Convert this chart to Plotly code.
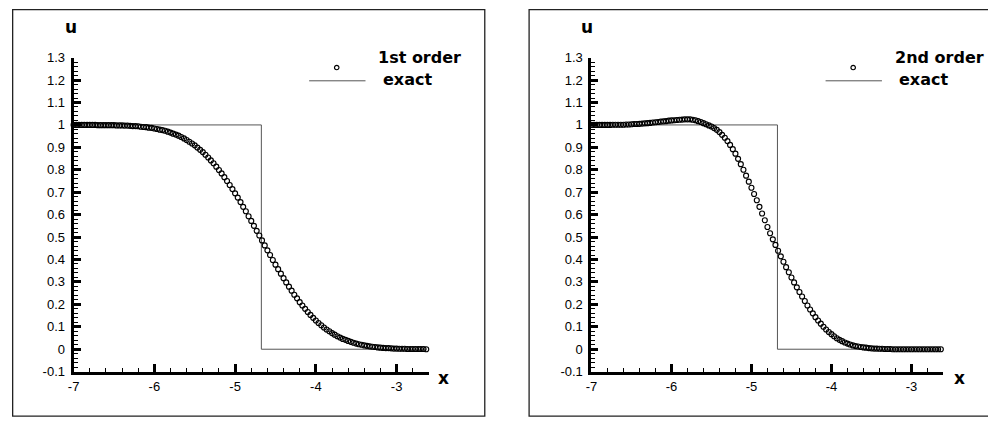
import plotly.graph_objects as go

# ---------------- data ----------------
X = [-7.000, -6.967, -6.933, -6.900, -6.867, -6.833, -6.800, -6.767, -6.733, -6.700,
     -6.667, -6.633, -6.600, -6.567, -6.533, -6.500, -6.467, -6.433, -6.400, -6.367,
     -6.333, -6.300, -6.267, -6.233, -6.200, -6.167, -6.133, -6.100, -6.067, -6.033,
     -6.000, -5.967, -5.933, -5.900, -5.867, -5.833, -5.800, -5.767, -5.733, -5.700,
     -5.667, -5.633, -5.600, -5.567, -5.533, -5.500, -5.467, -5.433, -5.400, -5.367,
     -5.333, -5.300, -5.267, -5.233, -5.200, -5.167, -5.133, -5.100, -5.067, -5.033,
     -5.000, -4.967, -4.933, -4.900, -4.867, -4.833, -4.800, -4.767, -4.733, -4.700,
     -4.667, -4.633, -4.600, -4.567, -4.533, -4.500, -4.467, -4.433, -4.400, -4.367,
     -4.333, -4.300, -4.267, -4.233, -4.200, -4.167, -4.133, -4.100, -4.067, -4.033,
     -4.000, -3.967, -3.933, -3.900, -3.867, -3.833, -3.800, -3.767, -3.733, -3.700,
     -3.667, -3.633, -3.600, -3.567, -3.533, -3.500, -3.467, -3.433, -3.400, -3.367,
     -3.333, -3.300, -3.267, -3.233, -3.200, -3.167, -3.133, -3.100, -3.067, -3.033,
     -3.000, -2.967, -2.933, -2.900, -2.867, -2.833, -2.800, -2.767, -2.733, -2.700,
     -2.667, -2.633]

U_FIRST = [1.000, 1.000, 1.000, 1.000, 1.000, 1.000, 1.000, 1.000, 1.000, 0.999,
           0.999, 0.999, 0.999, 0.999, 0.999, 0.999, 0.998, 0.998, 0.998, 0.997,
           0.997, 0.996, 0.995, 0.995, 0.994, 0.992, 0.991, 0.990, 0.988, 0.987,
           0.984, 0.982, 0.979, 0.977, 0.974, 0.970, 0.966, 0.961, 0.957, 0.952,
           0.946, 0.940, 0.933, 0.925, 0.917, 0.909, 0.899, 0.889, 0.879, 0.867,
           0.855, 0.842, 0.829, 0.814, 0.799, 0.784, 0.767, 0.750, 0.732, 0.714,
           0.695, 0.676, 0.656, 0.635, 0.615, 0.593, 0.572, 0.550, 0.528, 0.507,
           0.485, 0.463, 0.441, 0.420, 0.398, 0.377, 0.357, 0.337, 0.317, 0.298,
           0.279, 0.261, 0.243, 0.227, 0.210, 0.195, 0.180, 0.166, 0.153, 0.140,
           0.128, 0.117, 0.107, 0.097, 0.088, 0.080, 0.072, 0.065, 0.058, 0.052,
           0.046, 0.042, 0.037, 0.033, 0.029, 0.025, 0.022, 0.020, 0.017, 0.015,
           0.013, 0.011, 0.010, 0.008, 0.007, 0.006, 0.005, 0.005, 0.004, 0.003,
           0.003, 0.002, 0.002, 0.002, 0.001, 0.001, 0.001, 0.001, 0.001, 0.001,
           0.001, 0.000]

U_SECOND = [1.000, 1.000, 1.000, 1.000, 1.000, 1.000, 1.000, 1.000, 1.001, 1.001,
            1.001, 1.001, 1.001, 1.002, 1.002, 1.003, 1.004, 1.004, 1.005, 1.006,
            1.007, 1.008, 1.009, 1.011, 1.012, 1.013, 1.015, 1.016, 1.017, 1.019,
            1.020, 1.021, 1.022, 1.023, 1.024, 1.025, 1.025, 1.025, 1.023, 1.021,
            1.017, 1.013, 1.008, 1.003, 0.998, 0.993, 0.986, 0.978, 0.968, 0.956,
            0.943, 0.928, 0.911, 0.892, 0.872, 0.849, 0.825, 0.800, 0.774, 0.747,
            0.720, 0.692, 0.664, 0.635, 0.605, 0.575, 0.545, 0.517, 0.490, 0.465,
            0.439, 0.414, 0.390, 0.366, 0.343, 0.320, 0.298, 0.276, 0.255, 0.235,
            0.215, 0.195, 0.177, 0.160, 0.143, 0.128, 0.114, 0.100, 0.088, 0.077,
            0.067, 0.058, 0.049, 0.042, 0.036, 0.030, 0.025, 0.021, 0.017, 0.014,
            0.012, 0.010, 0.008, 0.007, 0.005, 0.004, 0.003, 0.003, 0.002, 0.002,
            0.001, 0.001, 0.001, 0.000, 0.000, 0.000, 0.000, 0.000, 0.000, 0.000,
            0.000, 0.000, 0.000, 0.000, 0.000, 0.000, 0.000, 0.000, 0.000, 0.000,
            0.000, 0.000]

EXACT_X = [-7.0, -4.675, -4.675, -2.633]
EXACT_U = [1.0, 1.0, 0.0, 0.0]

X_TICKS = [-7, -6, -5, -4, -3]
X_TICK_TEXT = ["-7", "-6", "-5", "-4", "-3"]
Y_TICKS = [-0.1, 0.0, 0.1, 0.2, 0.3, 0.4, 0.5, 0.6, 0.7, 0.8, 0.9, 1.0, 1.1, 1.2, 1.3]
Y_TICK_TEXT = ["-0.1", "0", "0.1", "0.2", "0.3", "0.4", "0.5", "0.6", "0.7",
               "0.8", "0.9", "1", "1.1", "1.2", "1.3"]

SERIES_NAMES = ["1st order", "2nd order"]
SERIES_VALUES = [U_FIRST, U_SECOND]

# ---------------- figure ----------------
W, H = 988, 425
TXT = "DejaVu Sans"
TICKFONT = "Liberation Sans"


def px(v):
    return v / W


def py(v):
    return 1 - v / H


fig = go.Figure()

panel_dx = [0.0, 519.6]          # horizontal offset of each panel (pixels)
x_dom_px = [(68.0, 425.5), (589.0, 943.2)]

for k in range(2):
    xa = "x" if k == 0 else "x2"
    ya = "y" if k == 0 else "y2"
    fig.add_trace(go.Scatter(x=EXACT_X, y=EXACT_U, mode="lines",
                             line=dict(color="#555555", width=1),
                             xaxis=xa, yaxis=ya, showlegend=False,
                             cliponaxis=False, hoverinfo="skip"))
    fig.add_trace(go.Scatter(x=X, y=SERIES_VALUES[k], mode="markers",
                             marker=dict(symbol="circle-open", size=5,
                                         color="black", line=dict(width=1.15, color="black")),
                             xaxis=xa, yaxis=ya, showlegend=False,
                             cliponaxis=False, name=SERIES_NAMES[k]))

axis_common = dict(showline=True, linewidth=3, linecolor="black", mirror=False,
                   showgrid=False, zeroline=False, ticks="inside", tickcolor="black",
                   tickfont=dict(family=TICKFONT, size=13, color="black"))

y_dom = [py(378.0), py(52.5)]
for k in range(2):
    sfx = "" if k == 0 else "2"
    fig.update_layout(**{
        "xaxis" + sfx: dict(axis_common, domain=[px(x_dom_px[k][0]), px(x_dom_px[k][1])],
                            range=[-7, -2.6], anchor="y" + sfx,
                            tickmode="array", tickvals=X_TICKS, ticktext=X_TICK_TEXT,
                            ticklen=8, tickwidth=3, ticklabelstandoff=1,
                            minor=dict(ticks="inside", ticklen=4, tickwidth=1,
                                       tickcolor="black", tick0=-7, dtick=0.2,
                                       showgrid=False)),
        "yaxis" + sfx: dict(axis_common, domain=y_dom, range=[-0.1, 1.3],
                            anchor="x" + sfx,
                            tickmode="array", tickvals=Y_TICKS, ticktext=Y_TICK_TEXT,
                            ticklen=7, tickwidth=3, ticklabelstandoff=3,
                            minor=dict(ticks="inside", ticklen=4, tickwidth=1,
                                       tickcolor="black", tick0=0, dtick=0.02,
                                       showgrid=False)),
    })

shapes = []
annotations = []
for k in range(2):
    d = panel_dx[k]
    # outer frame
    shapes.append(dict(type="rect", xref="paper", yref="paper",
                       x0=px(6.7 + d), x1=px(481.7 + d), y0=py(424.0), y1=py(2.7),
                       line=dict(color="#222222", width=1.3), layer="below"))
    # legend samples
    shapes.append(dict(type="circle", xref="paper", yref="paper",
                       x0=px(330.5 + d), x1=px(335.0 + d), y0=py(65.0), y1=py(60.5),
                       line=dict(color="black", width=1.15)))
    shapes.append(dict(type="line", xref="paper", yref="paper",
                       x0=px(305.0 + d), x1=px(361.7 + d), y0=py(76.5), y1=py(76.5),
                       line=dict(color="#555555", width=1)))
    annotations.append(dict(text="<b>" + SERIES_NAMES[k] + "</b>", xref="paper", yref="paper",
                            x=px(372.5 + d), y=py(52.5), xanchor="left", yanchor="middle",
                            showarrow=False, font=dict(family=TXT, size=16, color="black")))
    annotations.append(dict(text="<b>exact</b>", xref="paper", yref="paper",
                            x=px(377.0 + d), y=py(75.0), xanchor="left", yanchor="middle",
                            showarrow=False, font=dict(family=TXT, size=16, color="black")))
    # axis titles
    annotations.append(dict(text="<b>u</b>", xref="paper", yref="paper",
                            x=px(65.3 + d), y=py(20.5), xanchor="center", yanchor="middle",
                            showarrow=False, font=dict(family=TXT, size=17, color="black")))
    annotations.append(dict(text="<b>x</b>", xref="paper", yref="paper",
                            x=px(440.0 + d), y=py(385.0), xanchor="center", yanchor="middle",
                            showarrow=False, font=dict(family=TXT, size=17, color="black")))

fig.update_layout(width=W, height=H, margin=dict(l=0, r=0, t=0, b=0),
                  paper_bgcolor="white", plot_bgcolor="white",
                  shapes=shapes, annotations=annotations, showlegend=False)

fig.write_html("out.html", config={"displayModeBar": False},
               post_script="document.body.style.margin='0';document.body.style.overflow='hidden';")
